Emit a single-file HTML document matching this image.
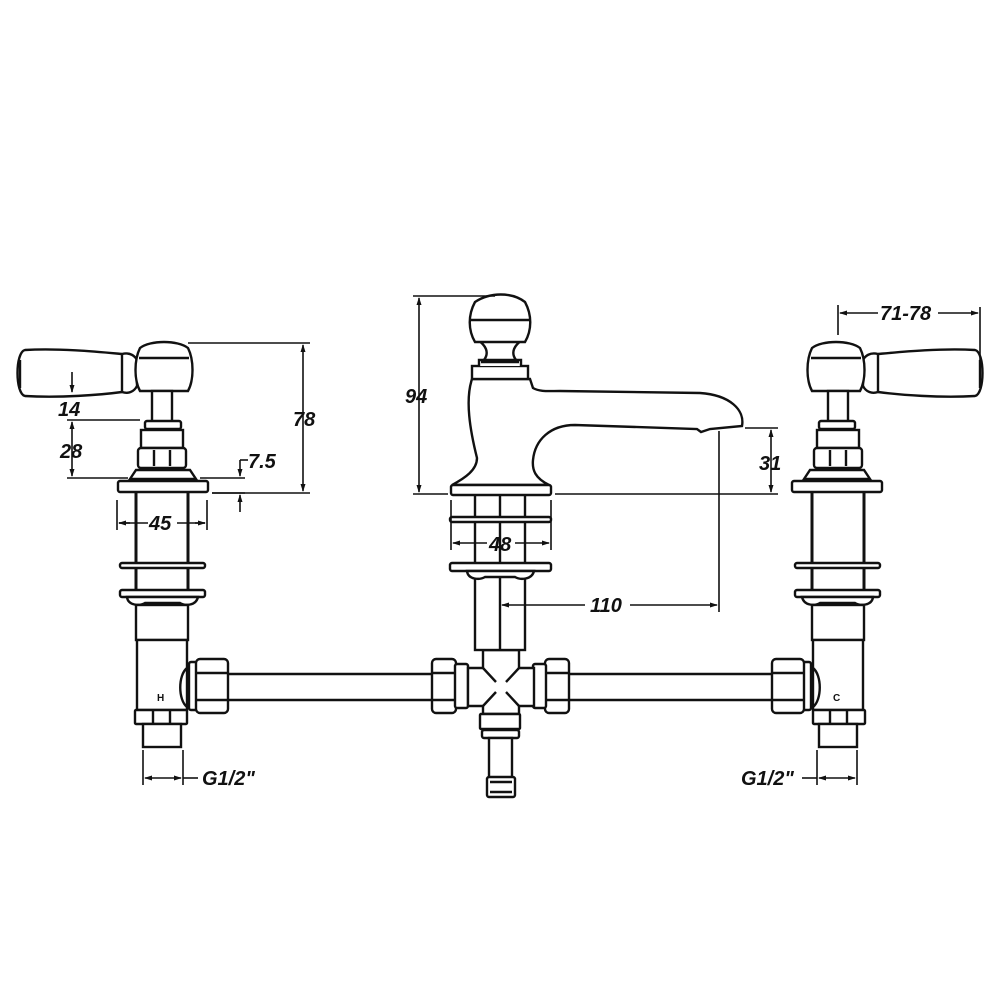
<!DOCTYPE html>
<html><head><meta charset="utf-8"><style>
html,body{margin:0;padding:0;background:#fff}
svg{display:block}
text{font-family:"Liberation Sans",sans-serif;font-weight:bold;font-style:italic;fill:#111}
</style></head><body>
<svg width="1000" height="1000" viewBox="0 0 1000 1000" xmlns="http://www.w3.org/2000/svg">
<defs>
<marker id="a" markerWidth="8" markerHeight="8" refX="7" refY="4" orient="auto-start-reverse" markerUnits="userSpaceOnUse"><path d="M0,1.5 L8,4 L0,6.5z" fill="#111"/></marker>
<g id="valve" fill="#fff" stroke="#111" stroke-width="2.4">
  <path d="M25,350 C60,348 100,352 122,354 C130,352 135,356 137,360 L137,386 C134,392 128,394 122,392 C100,395 60,398 25,396 C15,394 15,352 25,350z"/>
  <path d="M20,360 L20,388" />
  <path d="M122,354 L122,392"/>
  <path d="M140,348 C150,340 178,340 188,348 C194,360 194,380 188,391 L140,391 C134,380 134,360 140,348z"/>
  <path d="M139,358 L189,358"/>
  <rect x="152" y="391" width="20" height="31"/>
  <rect x="145" y="421" width="36" height="8" rx="2"/>
  <rect x="141" y="430" width="42" height="18"/>
  <rect x="138" y="448" width="48" height="20" rx="3"/>
  <path d="M154,450 L154,466 M170,450 L170,466"/>
  <path d="M130,479 L136,470 L190,470 L196,479z"/>
  <rect x="118" y="481" width="90" height="11" rx="2"/>
  <path d="M136,492 L136,605 M188,492 L188,605" stroke-width="3"/>
  <rect x="120" y="563" width="85" height="5" rx="2"/>
  <rect x="120" y="590" width="85" height="7" rx="2"/>
  <path d="M127,597 C128,606 140,606 145,603 L180,603 C185,606 196,606 198,597z"/>
  <rect x="136" y="605" width="52" height="35"/>
  <rect x="137" y="640" width="50" height="70"/>
  <path d="M187,668 C178,675 178,700 187,707z"/>
  <rect x="189" y="662" width="8" height="48" rx="2"/>
  <rect x="196" y="659" width="32" height="54" rx="4"/>
  <path d="M196,673 L228,673 M196,700 L228,700"/>
  <rect x="135" y="710" width="52" height="14" rx="1"/>
  <path d="M153,711 L153,724 M170,711 L170,724"/>
  <rect x="143" y="724" width="38" height="23"/>
</g>
</defs>

<g fill="none" stroke="#111" stroke-width="2.4">
<path d="M228,674 L432,674 M228,700 L432,700 M569,674 L772,674 M569,700 L772,700"/>
</g>

<use href="#valve"/>
<use href="#valve" transform="translate(1000,0) scale(-1,1)"/>

<g fill="#fff" stroke="#111" stroke-width="2.4">
<rect x="432" y="659" width="24" height="54" rx="4"/>
<path d="M432,673 L456,673 M432,700 L456,700"/>
<rect x="455" y="664" width="13" height="44" rx="2"/>
<rect x="545" y="659" width="24" height="54" rx="4"/>
<path d="M545,673 L569,673 M545,700 L569,700"/>
<rect x="533" y="664" width="13" height="44" rx="2"/>
<path d="M483,650 L519,650 L519,668 L534,668 L534,706 L519,706 L519,714 L483,714 L483,706 L468,706 L468,668 L483,668z"/>
<path d="M483,668 L496,682 M519,668 L506,682 M483,706 L496,692 M519,706 L506,692" fill="none"/>
<rect x="480" y="714" width="40" height="15" rx="1"/>
<rect x="482" y="730" width="37" height="8" rx="2"/>
<rect x="489" y="738" width="23" height="40"/>
<rect x="487" y="777" width="28" height="20" rx="2"/>
<path d="M490,782 L512,782 M490,792 L512,792" fill="none"/>
</g>

<g fill="#fff" stroke="#111" stroke-width="2.4">
<rect x="475" y="494" width="50" height="156"/>
<path d="M500,494 L500,650" fill="none"/>
<rect x="450" y="517" width="101" height="5" rx="2"/>
<rect x="450" y="563" width="101" height="8" rx="2"/>
<path d="M467,571 C468,580 480,580 485,577 L515,577 C520,580 532,580 534,571z"/>
<path d="M533,388 C540,392 548,391 560,391 L700,393 C730,395 745,410 742,426 L710,429 L701,432 L697,429 L575,425 C550,425 535,440 533,460 C532,470 535,478 549,485 L452,485 C465,478 477,470 477,458 C470,430 465,400 472,379 L530,379 z"/>
<rect x="472" y="366" width="56" height="13"/>
<path d="M479,366 L479,360 L521,360 L521,366 M481,362 L519,362"/>
<path d="M484,360 C490,352 485,345 478,340 L522,340 C515,345 510,352 516,360z"/>
<path d="M475,302 C490,292 512,292 525,302 C532,315 532,330 525,342 L475,342 C468,330 468,315 475,302z"/>
<path d="M469,320 L531,320" fill="none"/>
<rect x="451" y="485" width="100" height="10" rx="2"/>
</g>

<g fill="none" stroke="#111" stroke-width="1.6">
<path d="M188,343 L310,343 M212,493 L310,493"/>
<path d="M303,345 L303,491" marker-start="url(#a)" marker-end="url(#a)"/>
<path d="M72,372 L72,392" marker-end="url(#a)"/>
<path d="M67,420 L140,420 M67,478 L128,478"/>
<path d="M72,422 L72,476" marker-start="url(#a)" marker-end="url(#a)"/>
<path d="M200,478 L245,478 M212,493 L245,493"/>
<path d="M240,460 L240,476" marker-end="url(#a)"/>
<path d="M240,460 L248,460"/>
<path d="M240,512 L240,495" marker-end="url(#a)"/>
<path d="M117,500 L117,530 M207,500 L207,530"/>
<path d="M119,523 L148,523 M177,523 L205,523"/>
<path d="M119,523 L130,523" marker-start="url(#a)"/>
<path d="M195,523 L205,523" marker-end="url(#a)"/>
<path d="M413,296 L495,296 M413,494 L448,494 M555,494 L778,494"/>
<path d="M419,298 L419,492" marker-start="url(#a)" marker-end="url(#a)"/>
<path d="M745,428 L778,428"/>
<path d="M771,430 L771,492" marker-start="url(#a)" marker-end="url(#a)"/>
<path d="M451,500 L451,550 M551,500 L551,550"/>
<path d="M453,543 L487,543" marker-start="url(#a)"/>
<path d="M515,543 L549,543" marker-end="url(#a)"/>
<path d="M719,431 L719,612"/>
<path d="M502,605 L585,605" marker-start="url(#a)"/>
<path d="M630,605 L717,605" marker-end="url(#a)"/>
<path d="M838,305 L838,335 M980,307 L980,380"/>
<path d="M840,313 L878,313" marker-start="url(#a)"/>
<path d="M938,313 L978,313" marker-end="url(#a)"/>
<path d="M143,750 L143,785 M183,750 L183,785"/>
<path d="M145,778 L181,778" marker-start="url(#a)" marker-end="url(#a)"/>
<path d="M183,778 L198,778"/>
<path d="M817,750 L817,785 M857,750 L857,785"/>
<path d="M819,778 L855,778" marker-start="url(#a)" marker-end="url(#a)"/>
<path d="M802,778 L817,778"/>
</g>

<g font-size="20">
<text x="293" y="426">78</text>
<text x="58" y="416">14</text>
<text x="60" y="458">28</text>
<text x="248" y="468">7.5</text>
<text x="149" y="530">45</text>
<text x="405" y="403">94</text>
<text x="759" y="470">31</text>
<text x="489" y="551">48</text>
<text x="590" y="612">110</text>
<text x="880" y="320">71-78</text>
<text x="202" y="785">G1/2"</text>
<text x="741" y="785">G1/2"</text>
</g>
<text x="157" y="701" font-size="10" style="font-style:normal">H</text>
<text x="833" y="701" font-size="10" style="font-style:normal">C</text>
</svg>
</body></html>
